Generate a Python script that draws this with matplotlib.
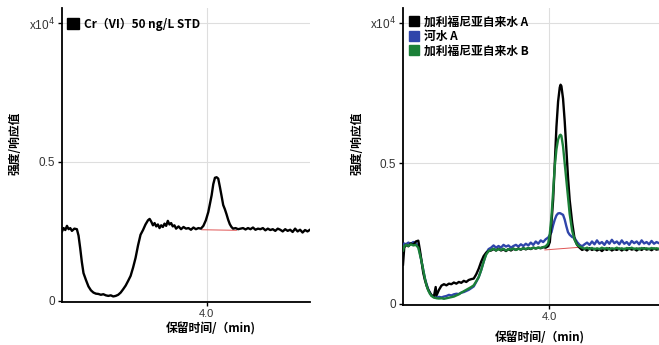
import matplotlib
matplotlib.use("Agg")
import matplotlib.pyplot as plt
from matplotlib.patches import Patch

plt.rcParams['font.family'] = ['Noto Sans CJK SC', 'DejaVu Sans']

# ---------------- data ----------------
# Left panel: Cr(VI) 50 ng/L STD
std_t = [2.25, 2.27, 2.29, 2.31, 2.33, 2.35, 2.37, 2.40, 2.43, 2.45, 2.47, 2.49, 2.51, 2.54,
         2.57, 2.60, 2.63, 2.66, 2.69, 2.72, 2.75, 2.78, 2.81, 2.84, 2.87, 2.90, 2.93, 2.96,
         2.99, 3.02, 3.05, 3.08, 3.11, 3.14, 3.17, 3.20, 3.23, 3.26, 3.29, 3.31, 3.33, 3.35,
         3.37, 3.39, 3.41, 3.43, 3.45, 3.47, 3.49, 3.51, 3.53, 3.55, 3.57, 3.59, 3.61, 3.63,
         3.66, 3.69, 3.72, 3.75, 3.78, 3.81, 3.84, 3.87, 3.90, 3.93, 3.96, 3.99, 4.02, 4.04,
         4.06, 4.08, 4.10, 4.12, 4.14, 4.16, 4.18, 4.20, 4.22, 4.24, 4.26, 4.28, 4.30, 4.32,
         4.35, 4.38, 4.41, 4.44, 4.47, 4.50, 4.53, 4.56, 4.59, 4.62, 4.65, 4.68, 4.71, 4.74,
         4.77, 4.80, 4.83, 4.86, 4.89, 4.92, 4.95, 4.98, 5.01, 5.04, 5.07, 5.10, 5.13, 5.16,
         5.19, 5.22, 5.25]
std_v = [0.250, 0.262, 0.255, 0.270, 0.258, 0.262, 0.252, 0.260, 0.258, 0.235, 0.190, 0.140, 0.100, 0.075,
         0.052, 0.038, 0.030, 0.026, 0.025, 0.022, 0.024, 0.020, 0.018, 0.020, 0.016, 0.018, 0.022, 0.030,
         0.042, 0.055, 0.072, 0.090, 0.120, 0.155, 0.200, 0.238, 0.255, 0.275, 0.290, 0.295, 0.285, 0.272,
         0.280, 0.268, 0.275, 0.262, 0.272, 0.266, 0.278, 0.270, 0.288, 0.275, 0.280, 0.268, 0.272, 0.260,
         0.268, 0.258, 0.266, 0.260, 0.262, 0.256, 0.264, 0.258, 0.262, 0.260, 0.270, 0.290, 0.320, 0.350,
         0.380, 0.420, 0.443, 0.445, 0.440, 0.410, 0.378, 0.345, 0.330, 0.312, 0.292, 0.276, 0.266, 0.260,
         0.262, 0.258, 0.260, 0.262, 0.257, 0.262, 0.258, 0.264, 0.256, 0.260, 0.258, 0.262, 0.254, 0.260,
         0.255, 0.258, 0.252, 0.260, 0.256, 0.250, 0.258, 0.252, 0.256, 0.248, 0.260, 0.250, 0.256, 0.246,
         0.255, 0.250, 0.256]
std_base_t = [3.94, 4.36]
std_base_v = [0.256, 0.254]

# Right panel samples
smp_t = [2.235, 2.25, 2.27, 2.30, 2.33, 2.36, 2.39, 2.42, 2.44, 2.46, 2.48, 2.50, 2.52, 2.54,
         2.56, 2.58, 2.61, 2.63, 2.64, 2.67, 2.70, 2.73, 2.76, 2.79, 2.82, 2.85, 2.88, 2.91,
         2.94, 2.97, 3.00, 3.03, 3.06, 3.09, 3.12, 3.15, 3.18, 3.21, 3.24, 3.27, 3.30, 3.33,
         3.36, 3.39, 3.42, 3.45, 3.48, 3.51, 3.54, 3.57, 3.60, 3.63, 3.66, 3.69, 3.72, 3.75,
         3.78, 3.81, 3.84, 3.87, 3.90, 3.93, 3.96, 3.99, 4.01, 4.03, 4.05, 4.07, 4.09, 4.11,
         4.13, 4.14, 4.15, 4.17, 4.19, 4.21, 4.23, 4.25, 4.28, 4.31, 4.34, 4.37, 4.40, 4.43,
         4.46, 4.49, 4.52, 4.55, 4.58, 4.61, 4.64, 4.67, 4.70, 4.73, 4.76, 4.79, 4.82, 4.85,
         4.88, 4.91, 4.94, 4.97, 5.00, 5.03, 5.06, 5.09, 5.12, 5.15, 5.18, 5.21, 5.24, 5.27,
         5.30, 5.33]
tapA_v = [0.140, 0.200, 0.210, 0.205, 0.215, 0.210, 0.222, 0.225, 0.190, 0.150, 0.110, 0.085, 0.065, 0.050,
          0.040, 0.030, 0.028, 0.060, 0.030, 0.050, 0.065, 0.070, 0.066, 0.072, 0.070, 0.076, 0.072, 0.078,
          0.075, 0.082, 0.078, 0.085, 0.088, 0.090, 0.105, 0.125, 0.150, 0.170, 0.182, 0.188, 0.190, 0.195,
          0.190, 0.196, 0.190, 0.194, 0.188, 0.195, 0.190, 0.196, 0.192, 0.197, 0.193, 0.198, 0.194, 0.198,
          0.195, 0.200, 0.197, 0.200, 0.198, 0.202, 0.200, 0.205, 0.220, 0.290, 0.370, 0.500, 0.630, 0.720,
          0.770, 0.780, 0.775, 0.730, 0.650, 0.550, 0.450, 0.370, 0.290, 0.230, 0.210, 0.200, 0.192, 0.196,
          0.190, 0.198, 0.192, 0.196, 0.190, 0.195, 0.188, 0.196, 0.192, 0.198, 0.190, 0.195, 0.192, 0.197,
          0.190, 0.196, 0.191, 0.198, 0.193, 0.196, 0.190, 0.197, 0.192, 0.198, 0.193, 0.196, 0.191, 0.197,
          0.193, 0.195]
river_v = [0.200, 0.215, 0.212, 0.218, 0.214, 0.220, 0.216, 0.205, 0.180, 0.150, 0.120, 0.090, 0.070, 0.052,
           0.040, 0.030, 0.026, 0.024, 0.022, 0.025, 0.023, 0.026, 0.028, 0.032, 0.030, 0.034, 0.036, 0.035,
           0.040, 0.042, 0.046, 0.050, 0.056, 0.062, 0.078, 0.095, 0.120, 0.150, 0.180, 0.195, 0.200, 0.208,
           0.200, 0.206, 0.200, 0.210, 0.204, 0.208, 0.200, 0.206, 0.210, 0.204, 0.212, 0.206, 0.214, 0.208,
           0.218, 0.210, 0.222, 0.214, 0.226, 0.220, 0.230, 0.236, 0.245, 0.255, 0.280, 0.300, 0.315, 0.322,
           0.323, 0.322, 0.320, 0.317, 0.300, 0.276, 0.255, 0.246, 0.238, 0.234, 0.220, 0.210, 0.205, 0.212,
           0.218, 0.210, 0.222, 0.212, 0.226, 0.214, 0.220, 0.210, 0.224, 0.214, 0.228, 0.216, 0.222, 0.212,
           0.226, 0.214, 0.220, 0.210, 0.224, 0.216, 0.222, 0.212, 0.226, 0.215, 0.220, 0.212, 0.224, 0.214,
           0.220, 0.216]
tapB_v = [0.190, 0.205, 0.210, 0.206, 0.212, 0.208, 0.210, 0.200, 0.175, 0.150, 0.120, 0.090, 0.065, 0.048,
          0.036, 0.028, 0.022, 0.021, 0.020, 0.019, 0.020, 0.018, 0.020, 0.022, 0.024, 0.026, 0.030, 0.034,
          0.040, 0.045, 0.050, 0.055, 0.060, 0.066, 0.080, 0.095, 0.120, 0.150, 0.175, 0.188, 0.192, 0.196,
          0.190, 0.195, 0.192, 0.196, 0.190, 0.195, 0.193, 0.197, 0.192, 0.196, 0.194, 0.198, 0.195, 0.199,
          0.196, 0.200, 0.198, 0.200, 0.199, 0.202, 0.205, 0.215, 0.250, 0.310, 0.400, 0.490, 0.550, 0.585,
          0.600, 0.602, 0.598, 0.560, 0.500, 0.440, 0.380, 0.320, 0.260, 0.228, 0.210, 0.204, 0.200, 0.196,
          0.200, 0.195, 0.199, 0.194, 0.198, 0.195, 0.200, 0.196, 0.199, 0.194, 0.198, 0.196, 0.200, 0.195,
          0.198, 0.194, 0.199, 0.196, 0.200, 0.195, 0.198, 0.194, 0.199, 0.196, 0.198, 0.195, 0.199, 0.196,
          0.198, 0.196]
smp_base_t = [3.95, 4.395]
smp_base_v = [0.192, 0.202]

y_ticks = [0, 0.5, 1.0]
y_ticklabels = ['0', '0.5', 'x10$^{4}$']
x_ticks = [4.0]
x_ticklabels = ['4.0']

left_label = ['Cr（VI）50 ng/L STD']
right_labels = ['加利福尼亚自来水 A', '河水 A', '加利福尼亚自来水 B']
right_colors = ['#000000', '#2f45aa', '#1b8038']

# ---------------- figure ----------------
W, H = 659, 345
fig = plt.figure(figsize=(W / 100, H / 100), dpi=100)

axL = fig.add_axes([62 / W, 43 / H, 248 / W, 294 / H])
axR = fig.add_axes([403 / W, 40 / H, 256 / W, 297 / H])


def style(ax, xlim, ylim):
    ax.set_xlim(*xlim)
    ax.set_ylim(*ylim)
    for s in ['top', 'right']:
        ax.spines[s].set_visible(False)
    for s in ['left', 'bottom']:
        ax.spines[s].set_linewidth(1.3)
        ax.spines[s].set_color('black')
    ax.set_yticks(y_ticks)
    ax.set_yticklabels(y_ticklabels, family=['Liberation Sans'], fontsize=8.5, color='#333333')
    ax.set_xticks(x_ticks)
    ax.set_xticklabels(x_ticklabels, family=['Liberation Sans'], fontsize=8, color='#333333')
    ax.tick_params(axis='both', length=3, width=1, color='black', pad=2)
    ax.grid(True, color='#dedede', linewidth=0.8)
    ax.set_axisbelow(True)


style(axL, (2.25, 5.25), (-0.004, 1.054))
style(axR, (2.235, 5.33), (-0.004, 1.053))

axL.plot(std_t, std_v, color='black', lw=1.7, zorder=3)
axL.plot(std_base_t, std_base_v, color='#e05555', lw=0.7, zorder=2)

axR.plot(smp_base_t, smp_base_v, color='#e05555', lw=0.7, zorder=2)
axR.plot(smp_t, river_v, color=right_colors[1], lw=1.7, zorder=3)
axR.plot(smp_t, tapA_v, color=right_colors[0], lw=1.7, zorder=4)
axR.plot(smp_t, tapB_v, color=right_colors[2], lw=1.7, zorder=5)

axL.legend(handles=[Patch(color='black', label=left_label[0])],
           loc='upper left', bbox_to_anchor=(0.022, 0.968), frameon=False,
           handlelength=0.95, handleheight=0.95, handletextpad=0.45,
           borderpad=0, borderaxespad=0,
           prop={'family': ['Noto Sans CJK SC', 'DejaVu Sans'], 'weight': 'bold', 'size': 8.5})
axR.legend(handles=[Patch(color=c, label=l) for c, l in zip(right_colors, right_labels)],
           loc='upper left', bbox_to_anchor=(0.022, 0.975), frameon=False,
           handlelength=0.9, handleheight=0.9, handletextpad=0.4, labelspacing=0.12,
           borderpad=0, borderaxespad=0,
           prop={'family': ['Noto Sans CJK SC', 'DejaVu Sans'], 'weight': 'bold', 'size': 8.5})

ylab = '强度/响应值'
xlab = '保留时间/（min)'
fig.text(15 / W, 1 - 143 / H, ylab, rotation=90, ha='center', va='center',
         fontsize=8.5, fontweight='bold')
fig.text(357 / W, 1 - 143 / H, ylab, rotation=90, ha='center', va='center',
         fontsize=8.5, fontweight='bold')
fig.text(211 / W, 1 - 329 / H, xlab, ha='center', va='center', fontsize=8.5, fontweight='bold')
fig.text(540 / W, 1 - 338 / H, xlab, ha='center', va='center', fontsize=8.5, fontweight='bold')

fig.savefig('out.png', dpi=100)
